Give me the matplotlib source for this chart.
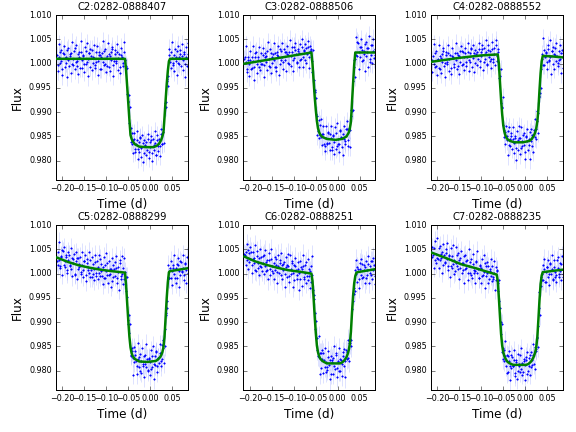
import numpy as np
import matplotlib.pyplot as plt

plt.style.use("classic")
plt.rcParams["font.family"] = "DejaVu Sans"
plt.rcParams["figure.facecolor"] = "white"

# observation times (d) of the two interleaved exposure sets, shared by all six cameras
time_a = [-0.2125, -0.2100, -0.2075, -0.2050, -0.2025, -0.2000, -0.1975, -0.1950, -0.1925, -0.1900,
          -0.1875, -0.1850, -0.1825, -0.1800, -0.1775, -0.1750, -0.1725, -0.1700, -0.1675, -0.1650,
          -0.1625, -0.1600, -0.1575, -0.1550, -0.1525, -0.1500, -0.1475, -0.1450, -0.1425, -0.1400,
          -0.1375, -0.1350, -0.1325, -0.1300, -0.1275, -0.1250, -0.1225, -0.1200, -0.1175, -0.1150,
          -0.1125, -0.1100, -0.1075, -0.1050, -0.1025, -0.1000, -0.0975, -0.0950, -0.0925, -0.0900,
          -0.0875, -0.0850, -0.0825, -0.0800, -0.0775, -0.0750, -0.0725, -0.0700, -0.0675, -0.0650,
          -0.0625, -0.0600, -0.0575, -0.0550, -0.0525, -0.0500, -0.0475, -0.0450, -0.0425, -0.0400,
          -0.0375, -0.0350, -0.0325, -0.0300, -0.0275, -0.0250, -0.0225, -0.0200, -0.0175, -0.0150,
          -0.0125, -0.0100, -0.0075, -0.0050, -0.0025, 0.0000, 0.0025, 0.0050, 0.0075, 0.0100,
          0.0125, 0.0150, 0.0175, 0.0200, 0.0225, 0.0250, 0.0275, 0.0300, 0.0325, 0.0350,
          0.0375, 0.0400, 0.0425, 0.0450, 0.0475, 0.0500, 0.0525, 0.0550, 0.0575, 0.0600,
          0.0625, 0.0650, 0.0675, 0.0700, 0.0725, 0.0750, 0.0775, 0.0800, 0.0825, 0.0850]

time_b = [-0.21125, -0.20875, -0.20625, -0.20375, -0.20125, -0.19875, -0.19625, -0.19375, -0.19125, -0.18875,
          -0.18625, -0.18375, -0.18125, -0.17875, -0.17625, -0.17375, -0.17125, -0.16875, -0.16625, -0.16375,
          -0.16125, -0.15875, -0.15625, -0.15375, -0.15125, -0.14875, -0.14625, -0.14375, -0.14125, -0.13875,
          -0.13625, -0.13375, -0.13125, -0.12875, -0.12625, -0.12375, -0.12125, -0.11875, -0.11625, -0.11375,
          -0.11125, -0.10875, -0.10625, -0.10375, -0.10125, -0.09875, -0.09625, -0.09375, -0.09125, -0.08875,
          -0.08625, -0.08375, -0.08125, -0.07875, -0.07625, -0.07375, -0.07125, -0.06875, -0.06625, -0.06375,
          -0.06125, -0.05875, -0.05625, -0.05375, -0.05125, -0.04875, -0.04625, -0.04375, -0.04125, -0.03875,
          -0.03625, -0.03375, -0.03125, -0.02875, -0.02625, -0.02375, -0.02125, -0.01875, -0.01625, -0.01375,
          -0.01125, -0.00875, -0.00625, -0.00375, -0.00125, 0.00125, 0.00375, 0.00625, 0.00875, 0.01125,
          0.01375, 0.01625, 0.01875, 0.02125, 0.02375, 0.02625, 0.02875, 0.03125, 0.03375, 0.03625,
          0.03875, 0.04125, 0.04375, 0.04625, 0.04875, 0.05125, 0.05375, 0.05625, 0.05875, 0.06125,
          0.06375, 0.06625, 0.06875, 0.07125, 0.07375, 0.07625, 0.07875, 0.08125, 0.08375, 0.08625]

names = ["C2:0282-0888407", "C3:0282-0888506", "C4:0282-0888552",
         "C5:0282-0888299", "C6:0282-0888251", "C7:0282-0888235"]

flux_c2_a = [1.0018, 0.9998, 1.0013, 1.0025, 1.0005, 0.9990, 1.0020, 1.0012, 1.0002, 1.0028,
             1.0007, 0.9995, 1.0016, 1.0022, 1.0000, 1.0010, 1.0032, 1.0004, 0.9996, 1.0019,
             1.0014, 0.9992, 1.0023, 1.0008, 1.0017, 0.9999, 1.0026, 1.0003, 1.0009, 1.0021,
             0.9994, 1.0015, 1.0029, 1.0001, 1.0011, 0.9997, 1.0024, 1.0006, 1.0018, 0.9989,
             1.0013, 1.0022, 1.0004, 1.0027, 1.0000, 1.0012, 0.9995, 1.0019, 1.0016, 1.0007,
             1.0030, 0.9998, 1.0005, 1.0020, 1.0002, 1.0024, 1.0011, 0.9993, 1.0017, 1.0014,
             1.0001, 1.0023, 1.0008, 0.9996, 0.9938, 0.9924, 0.9877, 0.9868, 0.9834, 0.9843,
             0.9845, 0.9818, 0.9834, 0.9843, 0.9825, 0.9819, 0.9846, 0.9827, 0.9836, 0.9815,
             0.9833, 0.9838, 0.9822, 0.9844, 0.9819, 0.9828, 0.9842, 0.9816, 0.9832, 0.9836,
             0.9812, 0.9842, 0.9830, 0.9844, 0.9830, 0.9856, 0.9835, 0.9860, 0.9909, 0.9921,
             0.9964, 0.9975, 1.0017, 1.0003, 1.0025, 1.0011, 0.9998, 1.0018, 1.0005, 1.0027,
             1.0001, 1.0013, 1.0020, 0.9996, 1.0016, 1.0008, 1.0023, 0.9999, 1.0014, 1.0019]
flux_c2_b = [0.9985, 1.0041, 1.0002, 1.0029, 0.9976, 1.0022, 1.0037, 0.9993, 1.0014, 0.9972,
             1.0032, 1.0019, 0.9981, 1.0045, 0.9997, 1.0026, 0.9988, 1.0038, 1.0005, 0.9979,
             1.0024, 1.0047, 0.9991, 1.0016, 0.9983, 1.0034, 1.0000, 1.0043, 0.9974, 1.0021,
             1.0030, 0.9986, 1.0013, 1.0039, 0.9992, 1.0003, 1.0036, 0.9977, 1.0025, 1.0018,
             0.9989, 1.0046, 0.9998, 1.0031, 0.9982, 1.0015, 1.0042, 0.9994, 0.9984, 1.0023,
             1.0035, 0.9975, 1.0028, 1.0006, 1.0040, 0.9987, 1.0020, 0.9980, 1.0033, 1.0012,
             0.9995, 1.0044, 0.9990, 0.9992, 0.9920, 0.9935, 0.9910, 0.9839, 0.9857, 0.9816,
             0.9857, 0.9825, 0.9862, 0.9804, 0.9838, 0.9848, 0.9808, 0.9853, 0.9797, 0.9842,
             0.9831, 0.9811, 0.9856, 0.9806, 0.9838, 0.9852, 0.9799, 0.9844, 0.9822, 0.9861,
             0.9811, 0.9853, 0.9821, 0.9810, 0.9865, 0.9835, 0.9865, 0.9837, 0.9919, 0.9911,
             0.9969, 0.9955, 1.0031, 0.9992, 1.0045, 1.0001, 0.9984, 1.0030, 1.0014, 0.9977,
             1.0037, 0.9999, 1.0028, 1.0041, 0.9987, 1.0019, 0.9973, 1.0034, 0.9995, 1.0043]

flux_c3_a = [1.0009, 1.0004, 0.9990, 1.0014, 1.0000, 1.0008, 0.9988, 1.0013, 1.0006, 0.9994,
             1.0021, 0.9999, 1.0013, 0.9993, 1.0006, 1.0021, 0.9999, 1.0018, 0.9997, 1.0013,
             1.0004, 1.0027, 1.0010, 0.9994, 1.0022, 1.0001, 1.0019, 1.0007, 1.0022, 0.9993,
             1.0018, 1.0016, 1.0000, 1.0026, 1.0013, 1.0004, 1.0030, 1.0008, 1.0024, 1.0020,
             1.0002, 1.0023, 1.0015, 1.0034, 1.0007, 1.0012, 1.0029, 1.0020, 1.0002, 1.0027,
             1.0022, 1.0008, 1.0035, 1.0013, 1.0026, 1.0007, 1.0032, 1.0019, 1.0035, 1.0013,
             1.0027, 1.0030, 0.9983, 0.9966, 0.9946, 0.9897, 0.9892, 0.9862, 0.9847, 0.9874,
             0.9848, 0.9855, 0.9856, 0.9831, 0.9847, 0.9834, 0.9860, 0.9837, 0.9855, 0.9846,
             0.9822, 0.9851, 0.9839, 0.9857, 0.9830, 0.9844, 0.9834, 0.9862, 0.9848, 0.9828,
             0.9856, 0.9845, 0.9841, 0.9866, 0.9842, 0.9865, 0.9864, 0.9893, 0.9902, 0.9964,
             1.0007, 1.0009, 1.0017, 1.0045, 1.0023, 1.0013, 1.0035, 1.0029, 1.0008, 1.0020,
             1.0041, 1.0015, 1.0025, 1.0033, 1.0003, 1.0018, 1.0038, 1.0026, 1.0011, 1.0031]
flux_c3_b = [1.0014, 1.0037, 0.9982, 1.0007, 0.9975, 1.0026, 0.9992, 1.0036, 0.9967, 1.0014,
             1.0024, 0.9980, 1.0008, 1.0034, 0.9987, 0.9999, 1.0032, 0.9973, 1.0022, 1.0015,
             0.9987, 1.0044, 0.9996, 1.0030, 0.9981, 1.0014, 1.0042, 0.9994, 0.9985, 1.0024,
             1.0036, 0.9977, 1.0030, 1.0008, 1.0043, 0.9990, 1.0024, 0.9984, 1.0037, 1.0017,
             1.0000, 1.0049, 0.9996, 1.0023, 0.9985, 1.0034, 1.0043, 1.0004, 1.0030, 0.9994,
             1.0040, 1.0010, 1.0050, 0.9993, 1.0028, 1.0040, 1.0001, 1.0046, 0.9991, 1.0036,
             1.0026, 1.0006, 1.0028, 0.9943, 0.9942, 0.9929, 0.9853, 0.9883, 0.9853, 0.9886,
             0.9832, 0.9871, 0.9835, 0.9821, 0.9872, 0.9836, 0.9858, 0.9822, 0.9872, 0.9829,
             0.9854, 0.9813, 0.9869, 0.9825, 0.9878, 0.9834, 0.9817, 0.9863, 0.9847, 0.9811,
             0.9872, 0.9835, 0.9866, 0.9881, 0.9830, 0.9867, 0.9829, 0.9904, 0.9905, 0.9993,
             0.9973, 1.0054, 1.0015, 1.0042, 0.9989, 1.0035, 1.0050, 1.0006, 1.0027, 0.9985,
             1.0045, 1.0032, 0.9994, 1.0058, 1.0010, 1.0039, 1.0001, 1.0051, 1.0018, 0.9992]

flux_c4_a = [1.0007, 1.0016, 0.9999, 1.0022, 0.9995, 1.0007, 0.9991, 1.0015, 1.0012, 1.0003,
             1.0027, 0.9995, 1.0002, 1.0017, 1.0000, 1.0022, 1.0009, 0.9991, 1.0016, 1.0013,
             1.0000, 1.0022, 1.0008, 1.0021, 0.9996, 1.0016, 1.0004, 1.0026, 1.0000, 1.0014,
             1.0021, 0.9996, 1.0014, 1.0024, 1.0008, 1.0003, 1.0031, 1.0012, 1.0022, 1.0001,
             1.0019, 1.0024, 1.0009, 1.0031, 1.0006, 1.0015, 1.0030, 1.0004, 1.0020, 1.0023,
             0.9999, 1.0028, 1.0014, 1.0026, 1.0010, 1.0031, 1.0003, 1.0020, 1.0038, 1.0015,
             1.0025, 0.9990, 0.9974, 0.9919, 0.9911, 0.9874, 0.9848, 0.9860, 0.9842, 0.9861,
             0.9833, 0.9844, 0.9850, 0.9825, 0.9844, 0.9836, 0.9851, 0.9827, 0.9842, 0.9847,
             0.9846, 0.9826, 0.9841, 0.9853, 0.9833, 0.9818, 0.9848, 0.9841, 0.9832, 0.9859,
             0.9840, 0.9830, 0.9854, 0.9864, 0.9848, 0.9866, 0.9902, 0.9899, 0.9931, 0.9989,
             1.0009, 0.9998, 1.0029, 1.0014, 1.0023, 1.0004, 1.0031, 1.0008, 1.0014, 1.0026,
             0.9999, 1.0019, 1.0033, 1.0005, 1.0015, 1.0001, 1.0027, 1.0009, 1.0021, 0.9992]
flux_c4_b = [0.9983, 1.0040, 0.9993, 1.0026, 0.9977, 1.0010, 1.0038, 0.9990, 0.9980, 1.0019,
             1.0032, 0.9972, 1.0025, 1.0003, 1.0038, 0.9985, 1.0018, 0.9978, 1.0032, 1.0011,
             0.9994, 1.0043, 0.9990, 1.0017, 0.9978, 1.0027, 1.0037, 0.9997, 1.0023, 0.9987,
             1.0033, 1.0003, 1.0042, 0.9985, 1.0021, 1.0032, 0.9993, 1.0038, 0.9983, 1.0028,
             1.0017, 0.9997, 1.0043, 0.9993, 1.0025, 1.0039, 0.9987, 1.0032, 1.0010, 1.0048,
             0.9998, 1.0039, 1.0005, 0.9992, 1.0045, 1.0010, 1.0033, 0.9997, 1.0048, 1.0005,
             1.0030, 0.9970, 0.9988, 0.9908, 0.9931, 0.9864, 0.9834, 0.9872, 0.9851, 0.9811,
             0.9869, 0.9830, 0.9858, 0.9870, 0.9815, 0.9847, 0.9801, 0.9862, 0.9823, 0.9871,
             0.9813, 0.9869, 0.9830, 0.9857, 0.9804, 0.9850, 0.9865, 0.9822, 0.9844, 0.9803,
             0.9865, 0.9854, 0.9819, 0.9887, 0.9845, 0.9882, 0.9858, 0.9933, 0.9940, 0.9949,
             1.0019, 1.0053, 0.9997, 1.0022, 0.9989, 1.0039, 1.0005, 1.0048, 0.9979, 1.0026,
             1.0035, 0.9990, 1.0017, 1.0043, 0.9996, 1.0007, 1.0039, 0.9980, 1.0028, 1.0021]

flux_c5_a = [1.0025, 1.0044, 1.0028, 1.0015, 1.0035, 1.0049, 1.0018, 1.0025, 1.0034, 1.0007,
             1.0027, 1.0039, 1.0017, 1.0010, 1.0032, 1.0021, 0.9998, 1.0025, 1.0033, 1.0009,
             1.0013, 1.0035, 1.0003, 1.0018, 1.0008, 1.0026, 0.9998, 1.0021, 1.0014, 1.0002,
             1.0028, 1.0007, 0.9992, 1.0020, 1.0010, 1.0023, 0.9996, 1.0014, 1.0001, 1.0030,
             1.0005, 0.9996, 1.0014, 0.9991, 1.0017, 1.0005, 1.0022, 0.9997, 1.0000, 1.0009,
             0.9985, 1.0017, 1.0010, 0.9995, 1.0012, 0.9990, 1.0003, 1.0021, 0.9996, 0.9999,
             1.0012, 0.9989, 1.0004, 0.9964, 0.9952, 0.9896, 0.9877, 0.9833, 0.9847, 0.9827,
             0.9817, 0.9840, 0.9820, 0.9809, 0.9825, 0.9829, 0.9800, 0.9819, 0.9810, 0.9831,
             0.9813, 0.9808, 0.9824, 0.9802, 0.9827, 0.9818, 0.9804, 0.9830, 0.9814, 0.9812,
             0.9838, 0.9810, 0.9826, 0.9816, 0.9836, 0.9819, 0.9853, 0.9846, 0.9851, 0.9914,
             0.9944, 0.9992, 0.9991, 1.0012, 0.9990, 1.0005, 1.0018, 0.9999, 1.0012, 0.9990,
             1.0017, 1.0005, 0.9998, 1.0023, 1.0003, 1.0012, 0.9997, 1.0021, 1.0007, 1.0002]
flux_c5_b = [1.0018, 1.0066, 1.0011, 1.0037, 0.9998, 1.0046, 1.0054, 1.0013, 1.0038, 1.0001,
             1.0045, 1.0015, 1.0053, 0.9995, 1.0030, 1.0040, 1.0000, 1.0044, 0.9988, 1.0032,
             1.0020, 1.0000, 1.0044, 0.9994, 1.0025, 1.0039, 0.9985, 1.0030, 1.0007, 1.0045,
             0.9993, 1.0034, 0.9999, 0.9986, 1.0038, 1.0002, 1.0025, 0.9989, 1.0038, 0.9995,
             1.0019, 0.9978, 1.0034, 0.9990, 1.0042, 0.9998, 0.9981, 1.0026, 1.0010, 0.9973,
             1.0032, 0.9994, 1.0023, 1.0036, 0.9981, 1.0013, 0.9967, 1.0028, 0.9988, 1.0036,
             0.9978, 1.0033, 0.9994, 0.9994, 0.9904, 0.9914, 0.9897, 0.9831, 0.9840, 0.9792,
             0.9848, 0.9833, 0.9793, 0.9856, 0.9807, 0.9835, 0.9796, 0.9846, 0.9813, 0.9787,
             0.9832, 0.9855, 0.9799, 0.9824, 0.9791, 0.9842, 0.9808, 0.9851, 0.9782, 0.9830,
             0.9840, 0.9797, 0.9826, 0.9854, 0.9810, 0.9825, 0.9864, 0.9815, 0.9885, 0.9918,
             0.9929, 1.0018, 0.9991, 1.0026, 0.9977, 1.0011, 1.0038, 0.9991, 0.9981, 1.0020,
             1.0033, 0.9973, 1.0026, 1.0005, 1.0039, 0.9987, 1.0020, 0.9980, 1.0034, 1.0013]

flux_c6_a = [1.0040, 1.0044, 1.0027, 1.0048, 1.0023, 1.0031, 1.0044, 1.0017, 1.0031, 1.0033,
             1.0007, 1.0036, 1.0021, 1.0032, 1.0015, 1.0035, 1.0006, 1.0022, 1.0039, 1.0015,
             1.0024, 1.0008, 1.0029, 1.0009, 1.0030, 1.0016, 1.0002, 1.0022, 1.0008, 1.0030,
             1.0003, 1.0015, 1.0021, 0.9997, 1.0017, 1.0008, 1.0023, 0.9999, 1.0013, 1.0017,
             1.0015, 0.9995, 1.0010, 1.0022, 1.0001, 0.9986, 1.0016, 1.0007, 0.9997, 1.0023,
             1.0001, 0.9989, 1.0010, 1.0016, 0.9992, 1.0002, 1.0024, 0.9996, 0.9987, 1.0010,
             1.0005, 0.9982, 0.9998, 0.9948, 0.9919, 0.9867, 0.9868, 0.9831, 0.9829, 0.9836,
             0.9806, 0.9825, 0.9837, 0.9808, 0.9817, 0.9802, 0.9829, 0.9811, 0.9823, 0.9794,
             0.9818, 0.9827, 0.9809, 0.9832, 0.9805, 0.9817, 0.9800, 0.9824, 0.9822, 0.9814,
             0.9839, 0.9809, 0.9819, 0.9838, 0.9826, 0.9856, 0.9856, 0.9863, 0.9927, 0.9959,
             0.9971, 1.0008, 1.0000, 1.0014, 0.9989, 1.0010, 0.9997, 1.0019, 0.9994, 1.0008,
             1.0014, 0.9990, 1.0008, 1.0019, 1.0002, 0.9997, 1.0026, 1.0007, 1.0017, 0.9996]
flux_c6_b = [1.0038, 1.0017, 1.0061, 1.0010, 1.0042, 1.0055, 1.0001, 1.0045, 1.0021, 1.0058,
             1.0006, 1.0047, 1.0012, 0.9998, 1.0050, 1.0014, 1.0036, 0.9999, 1.0049, 1.0005,
             1.0029, 0.9988, 1.0043, 0.9998, 1.0050, 1.0006, 0.9988, 1.0034, 1.0017, 0.9980,
             1.0039, 1.0001, 1.0029, 1.0042, 0.9988, 1.0019, 0.9973, 1.0034, 0.9994, 1.0041,
             0.9982, 1.0038, 0.9999, 1.0026, 0.9972, 1.0018, 1.0033, 0.9988, 1.0009, 0.9967,
             1.0026, 1.0013, 0.9975, 1.0039, 0.9989, 1.0018, 0.9980, 1.0030, 0.9996, 0.9970,
             1.0015, 1.0037, 0.9966, 0.9956, 0.9885, 0.9902, 0.9842, 0.9871, 0.9794, 0.9836,
             0.9842, 0.9796, 0.9821, 0.9846, 0.9798, 0.9808, 0.9841, 0.9782, 0.9830, 0.9823,
             0.9794, 0.9851, 0.9803, 0.9836, 0.9787, 0.9820, 0.9847, 0.9799, 0.9790, 0.9830,
             0.9844, 0.9786, 0.9842, 0.9824, 0.9864, 0.9819, 0.9865, 0.9850, 0.9943, 0.9957,
             0.9965, 1.0029, 0.9982, 1.0010, 0.9971, 1.0021, 1.0030, 0.9990, 1.0017, 0.9981,
             1.0026, 0.9997, 1.0036, 0.9980, 1.0015, 1.0026, 0.9988, 1.0033, 0.9978, 1.0023]

flux_c7_a = [1.0034, 1.0038, 1.0052, 1.0027, 1.0041, 1.0033, 1.0052, 1.0027, 1.0033, 1.0044,
             1.0017, 1.0038, 1.0024, 1.0043, 1.0030, 1.0015, 1.0036, 1.0016, 1.0037, 1.0020,
             1.0029, 1.0005, 1.0021, 1.0038, 1.0009, 1.0029, 1.0011, 1.0022, 1.0007, 1.0036,
             1.0010, 1.0012, 1.0028, 1.0001, 1.0015, 1.0023, 0.9997, 1.0019, 1.0002, 1.0006,
             1.0024, 1.0002, 1.0010, 0.9991, 1.0018, 1.0012, 0.9995, 1.0004, 1.0022, 0.9996,
             1.0001, 1.0015, 0.9988, 1.0009, 0.9996, 1.0015, 0.9989, 1.0002, 0.9986, 1.0007,
             0.9981, 0.9943, 0.9929, 0.9875, 0.9838, 0.9846, 0.9820, 0.9830, 0.9833, 0.9798,
             0.9819, 0.9809, 0.9805, 0.9828, 0.9810, 0.9822, 0.9795, 0.9818, 0.9800, 0.9809,
             0.9833, 0.9804, 0.9816, 0.9798, 0.9825, 0.9811, 0.9821, 0.9794, 0.9809, 0.9832,
             0.9807, 0.9822, 0.9832, 0.9814, 0.9848, 0.9841, 0.9870, 0.9892, 0.9963, 0.9974,
             0.9987, 1.0017, 1.0009, 0.9982, 1.0004, 1.0014, 0.9993, 0.9999, 1.0020, 1.0009,
             0.9988, 1.0014, 1.0004, 0.9997, 1.0027, 1.0012, 0.9992, 1.0005, 1.0020, 1.0000]
flux_c7_b = [1.0054, 1.0012, 1.0067, 1.0022, 1.0074, 1.0030, 1.0012, 1.0057, 1.0040, 1.0002,
             1.0061, 1.0022, 1.0050, 1.0062, 1.0008, 1.0039, 0.9992, 1.0052, 1.0012, 1.0059,
             1.0000, 1.0055, 1.0015, 1.0042, 0.9988, 1.0033, 1.0047, 1.0002, 1.0022, 0.9980,
             1.0039, 1.0025, 0.9987, 1.0050, 1.0002, 1.0030, 0.9991, 1.0041, 1.0007, 0.9980,
             1.0025, 1.0047, 0.9990, 1.0015, 0.9981, 1.0031, 0.9997, 1.0039, 0.9970, 1.0016,
             1.0024, 0.9980, 1.0006, 1.0031, 0.9984, 0.9994, 1.0026, 0.9967, 1.0014, 1.0006,
             0.9964, 0.9986, 0.9900, 0.9897, 0.9824, 0.9843, 0.9862, 0.9809, 0.9795, 0.9831,
             0.9841, 0.9780, 0.9832, 0.9809, 0.9842, 0.9789, 0.9822, 0.9782, 0.9835, 0.9814,
             0.9797, 0.9846, 0.9792, 0.9819, 0.9780, 0.9829, 0.9838, 0.9799, 0.9826, 0.9792,
             0.9839, 0.9812, 0.9855, 0.9803, 0.9845, 0.9867, 0.9848, 0.9930, 0.9914, 0.9992,
             0.9999, 0.9986, 1.0031, 0.9982, 1.0014, 1.0028, 0.9976, 1.0021, 0.9999, 1.0038,
             0.9987, 1.0028, 0.9994, 0.9982, 1.0034, 0.9999, 1.0022, 0.9987, 1.0037, 0.9994]

flux_err = [0.0019, 0.0020, 0.0019, 0.0020, 0.0021, 0.0020]

# fitted transit models (time, flux)
model_c2_t = [-0.2125, -0.0575, -0.055, -0.0525, -0.05, -0.0475, -0.045, -0.0425, -0.04, -0.035,
              -0.025, -0.0075, 0.0075, 0.015, 0.02, 0.025, 0.0275, 0.03, 0.0325, 0.035,
              0.0375, 0.04, 0.0425, 0.045, 0.085]
model_c2_f = [1.0010, 1.0010, 0.9985, 0.9952, 0.9918, 0.9884, 0.9853, 0.9845, 0.9840, 0.9834,
              0.9829, 0.9828, 0.9828, 0.9831, 0.9835, 0.9843, 0.9850, 0.9858, 0.9890, 0.9925,
              0.9958, 0.9985, 1.0005, 1.0010, 1.0010]

model_c3_t = [-0.2125, -0.06, -0.0575, -0.055, -0.0525, -0.05, -0.0475, -0.045, -0.0425, -0.04,
              -0.035, -0.025, -0.005, 0.01, 0.02, 0.025, 0.0275, 0.03, 0.0325, 0.035,
              0.0375, 0.04, 0.085]
model_c3_f = [1.0000, 1.0023, 1.0000, 0.9965, 0.9932, 0.9905, 0.9882, 0.9867, 0.9859, 0.9854,
              0.9849, 0.9845, 0.9843, 0.9845, 0.9850, 0.9858, 0.9866, 0.9880, 0.9920, 0.9960,
              0.9998, 1.0023, 1.0023]

model_c4_t = [-0.2125, -0.15, -0.1, -0.0625, -0.06, -0.0575, -0.055, -0.0525, -0.05, -0.0475,
              -0.045, -0.0425, -0.04, -0.035, -0.025, -0.005, 0.01, 0.015, 0.02, 0.0225,
              0.025, 0.0275, 0.03, 0.0325, 0.035, 0.0375, 0.04, 0.06, 0.085]
model_c4_f = [1.0004, 1.0012, 1.0017, 1.0019, 1.0000, 0.9962, 0.9926, 0.9896, 0.9873, 0.9860,
              0.9852, 0.9847, 0.9844, 0.9841, 0.9838, 0.9838, 0.9841, 0.9845, 0.9852, 0.9858,
              0.9866, 0.9880, 0.9905, 0.9945, 0.9980, 1.0005, 1.0016, 1.0015, 1.0013]

model_c5_t = [-0.2125, -0.1875, -0.1625, -0.1375, -0.1125, -0.0875, -0.0575, -0.055, -0.0525, -0.05,
              -0.0475, -0.045, -0.0425, -0.04, -0.035, -0.025, -0.0075, 0.0125, 0.0175, 0.0225,
              0.025, 0.0275, 0.03, 0.0325, 0.035, 0.0375, 0.04, 0.0425, 0.045, 0.085]
model_c5_f = [1.0033, 1.0024, 1.0017, 1.0012, 1.0008, 1.0005, 1.0002, 0.9975, 0.9938, 0.9902,
              0.9870, 0.9848, 0.9836, 0.9830, 0.9824, 0.9819, 0.9818, 0.9820, 0.9823, 0.9828,
              0.9832, 0.9838, 0.9848, 0.9870, 0.9910, 0.9950, 0.9982, 1.0003, 1.0005, 1.0011]

model_c6_t = [-0.2125, -0.1875, -0.1625, -0.1375, -0.1125, -0.0875, -0.06, -0.0575, -0.055, -0.0525,
              -0.05, -0.0475, -0.045, -0.0425, -0.04, -0.035, -0.025, 0.005, 0.01, 0.015,
              0.02, 0.0225, 0.025, 0.0275, 0.03, 0.0325, 0.035, 0.0375, 0.04, 0.0425,
              0.045, 0.085]
model_c6_f = [1.0035, 1.0025, 1.0018, 1.0012, 1.0007, 1.0004, 1.0000, 0.9985, 0.9950, 0.9912,
              0.9878, 0.9852, 0.9838, 0.9830, 0.9825, 0.9820, 0.9815, 0.9815, 0.9817, 0.9821,
              0.9828, 0.9834, 0.9842, 0.9855, 0.9880, 0.9920, 0.9955, 0.9980, 0.9995, 1.0002,
              1.0003, 1.0009]

model_c7_t = [-0.2125, -0.1775, -0.145, -0.1125, -0.0875, -0.065, -0.0625, -0.06, -0.0575, -0.055,
              -0.0525, -0.05, -0.0475, -0.045, -0.0425, -0.04, -0.035, -0.0275, 0.0025, 0.0075,
              0.0125, 0.0175, 0.02, 0.0225, 0.025, 0.0275, 0.03, 0.0325, 0.035, 0.0375,
              0.04, 0.085]
model_c7_f = [1.0043, 1.0031, 1.0019, 1.0011, 1.0004, 0.9998, 0.9985, 0.9950, 0.9912, 0.9876,
              0.9852, 0.9838, 0.9830, 0.9825, 0.9821, 0.9818, 0.9815, 0.9812, 0.9812, 0.9814,
              0.9818, 0.9825, 0.9830, 0.9837, 0.9848, 0.9868, 0.9905, 0.9945, 0.9978, 0.9996,
              1.0003, 1.0008]

x_ticks = [-0.20, -0.15, -0.10, -0.05, 0.00, 0.05]
y_ticks = [0.980, 0.985, 0.990, 0.995, 1.000, 1.005, 1.010]

fluxes = [(flux_c2_a, flux_c2_b), (flux_c3_a, flux_c3_b), (flux_c4_a, flux_c4_b),
          (flux_c5_a, flux_c5_b), (flux_c6_a, flux_c6_b), (flux_c7_a, flux_c7_b)]
models = [(model_c2_t, model_c2_f), (model_c3_t, model_c3_f), (model_c4_t, model_c4_f),
          (model_c5_t, model_c5_f), (model_c6_t, model_c6_f), (model_c7_t, model_c7_f)]

fig, axes = plt.subplots(2, 3, figsize=(8, 6), dpi=72)
fig.subplots_adjust(left=0.097, right=0.977, bottom=0.097, top=0.965,
                    wspace=0.421, hspace=0.272)

for ax, name, (fa, fb), err, (mt, mf) in zip(axes.flat, names, fluxes, flux_err, models):
    for t, f in [(time_a, fa), (time_b, fb)]:
        ax.errorbar(t, f, yerr=err, fmt="none", ecolor="#9aa5ff",
                    elinewidth=0.8, capsize=0, alpha=0.4, zorder=1)
        ax.plot(t, f, ".", color="b", mec="b", ms=3, zorder=2)
    ax.plot(mt, mf, "-", color=(0, 0.5, 0), lw=2.5, zorder=3)

    ax.set_xlim(-0.215, 0.0855)
    ax.set_ylim(0.976, 1.010)
    ax.set_xticks(x_ticks)
    ax.set_yticks(y_ticks)
    ax.ticklabel_format(useOffset=False)
    ax.tick_params(labelsize=8)
    ax.set_title(name, fontsize=10)
    ax.set_xlabel("Time (d)", fontsize=12)
    ax.set_ylabel("Flux", fontsize=12)

fig.savefig("out.png", dpi=72, facecolor="white")
